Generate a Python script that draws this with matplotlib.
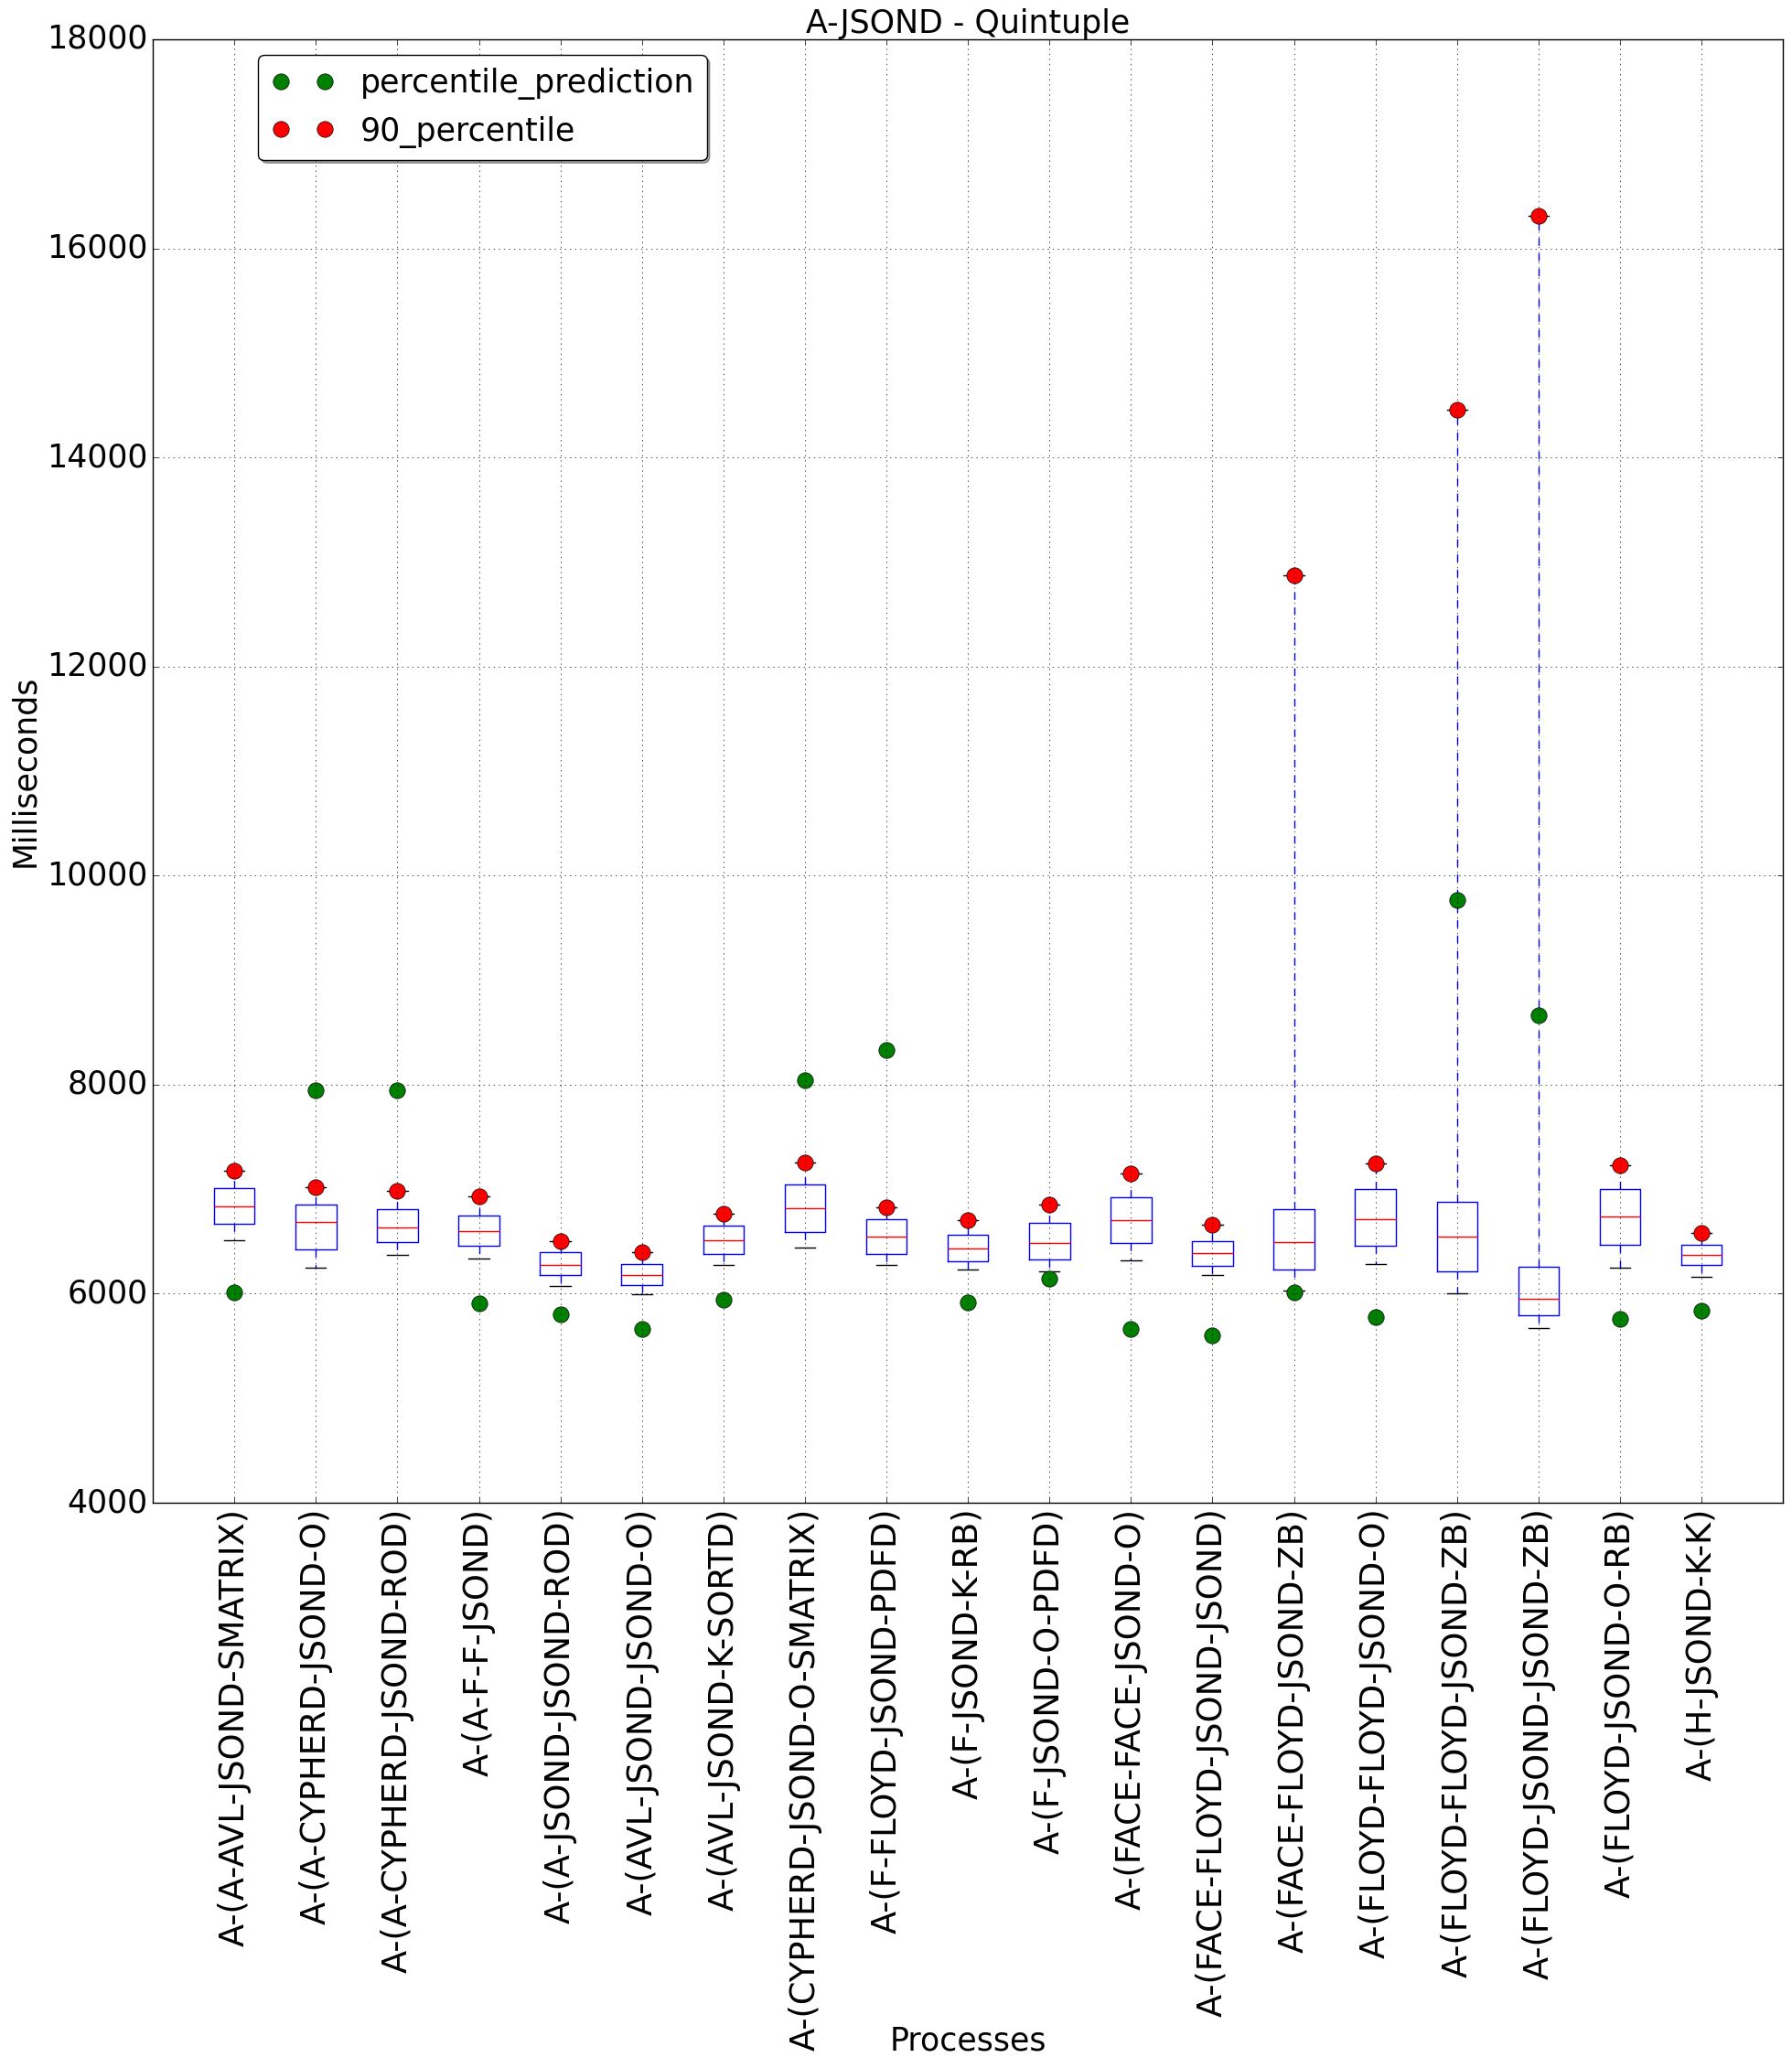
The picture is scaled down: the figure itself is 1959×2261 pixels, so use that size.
import numpy as np
import matplotlib
matplotlib.use('Agg')
from matplotlib import pyplot as plt

plt.style.use('classic')
plt.rcParams['font.size'] = 25
plt.rcParams['figure.facecolor'] = 'white'
plt.rcParams['savefig.facecolor'] = 'white'

processes = ['A-(A-AVL-JSOND-SMATRIX)', 'A-(A-CYPHERD-JSOND-O)', 'A-(A-CYPHERD-JSOND-ROD)',
             'A-(A-F-F-JSOND)', 'A-(A-JSOND-JSOND-ROD)', 'A-(AVL-JSOND-JSOND-O)',
             'A-(AVL-JSOND-K-SORTD)', 'A-(CYPHERD-JSOND-O-SMATRIX)', 'A-(F-FLOYD-JSOND-PDFD)',
             'A-(F-JSOND-K-RB)', 'A-(F-JSOND-O-PDFD)', 'A-(FACE-FACE-JSOND-O)',
             'A-(FACE-FLOYD-JSOND-JSOND)', 'A-(FACE-FLOYD-JSOND-ZB)', 'A-(FLOYD-FLOYD-JSOND-O)',
             'A-(FLOYD-FLOYD-JSOND-ZB)', 'A-(FLOYD-JSOND-JSOND-ZB)', 'A-(FLOYD-JSOND-O-RB)',
             'A-(H-JSOND-K-K)']

low = [6515, 6253, 6376, 6341, 6070, 5994, 6279, 6445, 6279, 6236,
       6218, 6323, 6175, 6030, 6288, 6000, 5668, 6253, 6166]
q1 = [6672, 6428, 6498, 6463, 6175, 6079, 6384, 6591, 6384, 6314,
      6332, 6489, 6271, 6236, 6463, 6218, 5790, 6472, 6279]
median = [6838, 6690, 6637, 6603, 6279, 6183, 6515, 6821, 6550, 6437,
          6489, 6707, 6393, 6498, 6716, 6550, 5948, 6742, 6376]
q3 = [7013, 6856, 6806, 6751, 6402, 6288, 6655, 7048, 6716, 6568,
      6681, 6926, 6507, 6812, 7004, 6882, 6262, 7004, 6472]
p90 = [7179, 7022, 6981, 6934, 6507, 6396, 6769, 7258, 6830, 6707,
       6856, 7153, 6664, 12875, 7249, 14460, 16315, 7231, 6585]
prediction = [6017, 7950, 7950, 5904, 5799, 5659, 5939, 8044, 8332, 5921,
              6145, 5659, 5598, 6017, 5773, 9765, 8668, 5755, 5834]

stats = []
for i in range(len(processes)):
    stats.append({'whislo': low[i], 'q1': q1[i], 'med': median[i],
                  'q3': q3[i], 'whishi': p90[i], 'fliers': []})

positions = np.arange(1, len(processes) + 1)

fig = plt.figure(figsize=(19.59, 22.61), dpi=100)
ax = fig.add_axes([0.0853, 0.2733, 0.9097, 0.7077])

ax.bxp(stats, positions=positions, widths=0.5)
ax.plot(positions, prediction, 'o', color='green', markersize=12.5, label='percentile_prediction')
ax.plot(positions, p90, 'o', color='red', markersize=12.5, label='90_percentile')

ax.set_xlim(0, 20)
ax.set_ylim(4000, 18000)
ax.set_xticks(positions)
ax.set_xticklabels(processes, rotation=90, fontsize=26.5)
ax.grid(True)
ax.set_title('A-JSOND - Quintuple', fontsize=25)
ax.set_xlabel('Processes', fontsize=25)
ax.xaxis.set_label_coords(0.5, -0.357)
ax.set_ylabel('Milliseconds', fontsize=25)
ax.legend(loc='upper left', bbox_to_anchor=(0.055, 1.0), numpoints=2,
          fancybox=True, shadow=True, fontsize=25)

fig.savefig('out.png', dpi=100)
